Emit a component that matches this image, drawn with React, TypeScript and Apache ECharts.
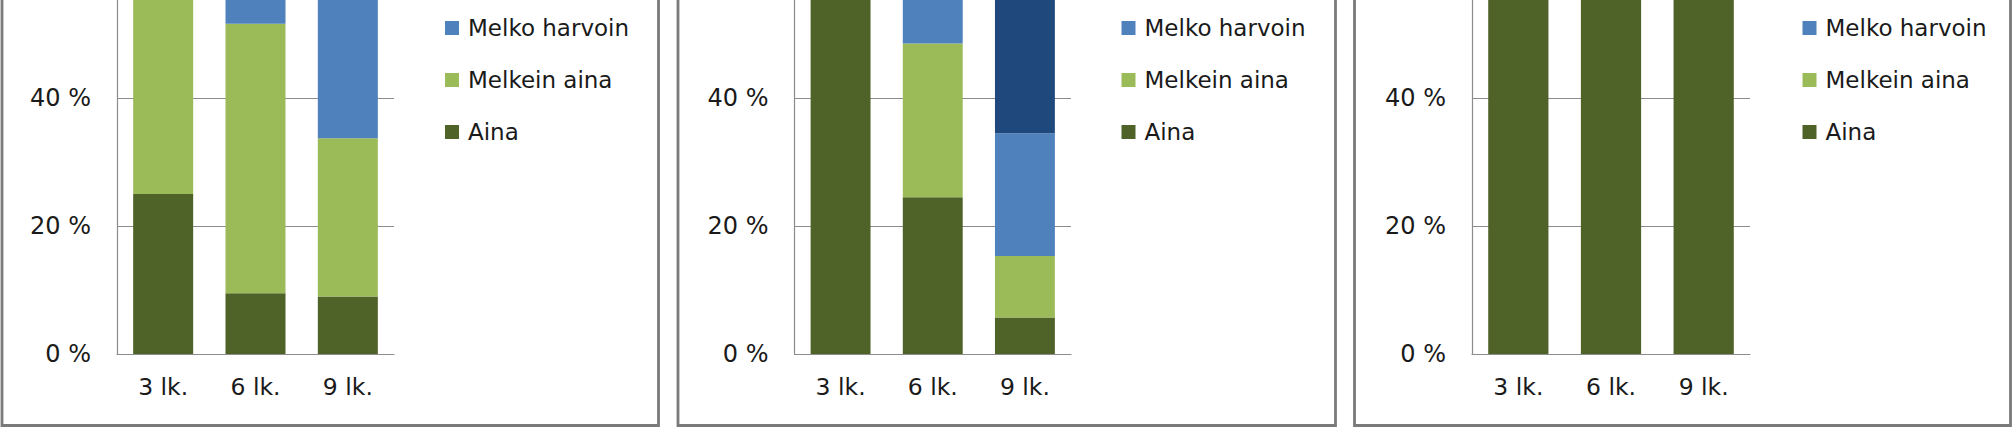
import React, { useEffect, useRef } from "react";
import * as echarts from "echarts";

// ---- data ----
const categories = ["3 lk.", "6 lk.", "9 lk."];
const legendNames = ["Melko harvoin", "Melkein aina", "Aina"];
const hiddenName = "Ei koskaan";

// Panel 1 (values in %; parts above ~55 % are cropped in the reference)
const p1Aina = [25, 9.5, 9];
const p1MelkeinAina = [50, 42.1, 24.7];
const p1MelkoHarvoin = [20, 38.4, 45];
const p1EiKoskaan = [5, 10, 21.3];

// Panel 2
const p2Aina = [75, 24.5, 5.7];
const p2MelkeinAina = [20, 24, 9.6];
const p2MelkoHarvoin = [5, 40, 19.2];
const p2EiKoskaan = [0, 11.5, 65.5];

// Panel 3
const p3Aina = [90, 85, 80];
const p3MelkeinAina = [10, 15, 15];
const p3MelkoHarvoin = [0, 0, 5];
const p3EiKoskaan = [0, 0, 0];

// visible top of the value axis (the reference is cropped there)
const Y_MAX = 55.3125;
const Y_INTERVAL = 20;

// ---- styles / layout ----
const COLORS = {
  aina: "#4F6228",
  melkein: "#9BBB59",
  melko: "#4F81BD",
  ei: "#1F497D",
};
const FONT = "DejaVu Sans";
const TEXT_COLOR = "#1a1a1a";
const GRID_COLOR = "#8c8c8c";

const panelLayout = [
  { axisL: 117, axisR: 394, legendX: 440, borderL: 2, borderR: 658.5 },
  { axisL: 794.5, axisR: 1071, legendX: 1116.5, borderL: 678, borderR: 1335.5 },
  { axisL: 1472, axisR: 1750, legendX: 1797.5, borderL: 1354.5, borderR: 2010.5 },
];
const panelData = [
  [p1Aina, p1MelkeinAina, p1MelkoHarvoin, p1EiKoskaan],
  [p2Aina, p2MelkeinAina, p2MelkoHarvoin, p2EiKoskaan],
  [p3Aina, p3MelkeinAina, p3MelkoHarvoin, p3EiKoskaan],
];
const seriesNames = ["Aina", "Melkein aina", "Melko harvoin", hiddenName];
const seriesColors = [COLORS.aina, COLORS.melkein, COLORS.melko, COLORS.ei];

const ZERO_Y = 354; // page y of 0 %
const BORDER_BOTTOM = 425.5;

export default function App() {
  const ref = useRef<HTMLDivElement>(null);

  useEffect(() => {
    document.body.style.overflow = "hidden";
    const chart = echarts.init(ref.current!, null, { renderer: "svg" });

    const grids: any[] = [];
    const xAxes: any[] = [];
    const yAxes: any[] = [];
    const legends: any[] = [];
    const series: any[] = [];
    const graphics: any[] = [];

    panelLayout.forEach((p, i) => {
      grids.push({
        left: p.axisL,
        width: p.axisR - p.axisL,
        top: 0,
        height: ZERO_Y,
        containLabel: false,
      });
      xAxes.push({
        type: "category",
        gridIndex: i,
        data: categories,
        axisLine: { show: true, lineStyle: { color: GRID_COLOR, width: 1.2 } },
        axisTick: { show: false },
        axisLabel: {
          fontFamily: FONT,
          fontSize: 23.5,
          color: TEXT_COLOR,
          margin: 21,
        },
      });
      yAxes.push({
        type: "value",
        gridIndex: i,
        min: 0,
        max: Y_MAX,
        interval: Y_INTERVAL,
        axisLine: { show: true, lineStyle: { color: GRID_COLOR, width: 1.2 } },
        axisTick: { show: false },
        splitLine: {
          show: true,
          showMaxLine: false,
          lineStyle: { color: GRID_COLOR, width: 1.2 },
        },
        axisLabel: {
          fontFamily: FONT,
          fontSize: 24,
          color: TEXT_COLOR,
          margin: 26,
          showMaxLabel: false,
          formatter: (v: number) => (v % Y_INTERVAL === 0 ? `${v} %` : ""),
        },
      });
      legends.push({
        orient: "vertical",
        left: p.legendX,
        top: 11.5,
        itemWidth: 14,
        itemHeight: 14,
        itemGap: 29,
        icon: "rect",
        data: legendNames,
        selectedMode: false,
        textStyle: {
          fontFamily: FONT,
          fontSize: 23,
          color: TEXT_COLOR,
          padding: [0, 0, 0, 4],
        },
      });
      panelData[i].forEach((vals, s) => {
        series.push({
          type: "bar",
          name: seriesNames[s],
          stack: "panel" + i,
          xAxisIndex: i,
          yAxisIndex: i,
          barWidth: "65%",
          clip: true,
          data: vals,
          itemStyle: { color: seriesColors[s] },
        });
      });
      graphics.push({
        type: "rect",
        shape: {
          x: p.borderL,
          y: -20,
          width: p.borderR - p.borderL,
          height: BORDER_BOTTOM + 20,
        },
        style: { fill: "none", stroke: "#7a7a7a", lineWidth: 2.8 },
        silent: true,
        z: 100,
      });
    });

    chart.setOption({
      animation: false,
      backgroundColor: "#ffffff",
      grid: grids,
      xAxis: xAxes,
      yAxis: yAxes,
      legend: legends,
      series,
      graphic: graphics,
    });

    return () => chart.dispose();
  }, []);

  return (
    <div
      ref={ref}
      style={{ position: "absolute", left: 0, top: 0, width: 2014, height: 429 }}
    />
  );
}
